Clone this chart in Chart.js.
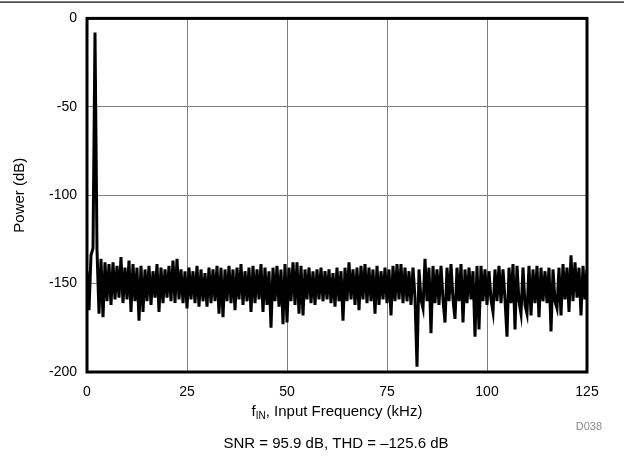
<!DOCTYPE html>
<html>
<head>
<meta charset="utf-8">
<script src="https://cdn.jsdelivr.net/npm/chart.js@4/dist/chart.umd.min.js"></script>
<style>
  html, body { margin: 0; padding: 0; background: #fff; }
  #wrap { width: 624px; height: 461px; position: relative; }
</style>
</head>
<body>
<div id="wrap"><canvas id="c" width="624" height="461"></canvas></div>
<script>
// ---- data (FFT, 0.5 kHz bins) ----
const binStepKHz = 0.5;
const powerDb = [
  -143,-165,-134,-130,-8,-131,-167,-136,-169,-138,
  -160,-139,-162,-138,-159,-140,-158,-135,-161,-141,
  -159,-137,-166,-139,-160,-141,-171,-140,-166,-142,
  -160,-140,-162,-143,-158,-139,-166,-141,-161,-142,
  -158,-140,-160,-137,-161,-136,-159,-142,-161,-143,
  -164,-141,-159,-143,-161,-140,-163,-142,-160,-144,
  -163,-141,-161,-142,-160,-140,-167,-141,-169,-142,
  -160,-140,-161,-142,-165,-141,-159,-139,-162,-143,
  -160,-141,-166,-140,-161,-142,-159,-139,-166,-141,
  -162,-143,-175,-141,-160,-140,-163,-142,-173,-139,
  -172,-141,-160,-138,-162,-138,-167,-140,-168,-142,
  -159,-141,-161,-143,-162,-142,-159,-141,-160,-143,
  -159,-142,-161,-144,-163,-141,-160,-143,-171,-141,
  -160,-138,-159,-142,-162,-141,-165,-140,-159,-139,
  -161,-141,-160,-142,-167,-140,-162,-143,-159,-141,
  -161,-142,-168,-140,-160,-139,-159,-139,-161,-141,
  -160,-143,-162,-141,-158,-197,-142,-159,-164,-136,
  -160,-141,-178,-140,-161,-142,-162,-140,-159,-172,
  -141,-160,-139,-159,-170,-141,-160,-139,-172,-142,
  -161,-141,-159,-143,-180,-140,-176,-140,-160,-142,
  -162,-143,-159,-166,-142,-160,-140,-161,-142,-159,
  -180,-141,-161,-139,-176,-140,-160,-167,-141,-162,
  -167,-140,-168,-142,-161,-140,-169,-141,-160,-143,
  -161,-141,-177,-142,-160,-164,-141,-168,-139,-159,
  -141,-166,-134,-160,-138,-158,-141,-168,-140,-159,
  -142
];
const xTickValues = [0, 25, 50, 75, 100, 125];
const yTickValues = [0, -50, -100, -150, -200];
const yAxisTitle = 'Power (dB)';
const xTitleMain = 'f';
const xTitleSub = 'IN';
const xTitleRest = ', Input Frequency (kHz)';
const footnote = 'SNR = 95.9 dB, THD = \u2013125.6 dB';
const figureId = 'D038';

const points = powerDb.map((v, i) => ({ x: i * binStepKHz, y: v }));

const FONT = '"Liberation Sans", Arial, sans-serif';

const decor = {
  id: 'decor',
  afterDraw(chart) {
    const ctx = chart.ctx;
    const a = chart.chartArea;
    ctx.save();
    // top rule
    ctx.fillStyle = '#000';
    ctx.fillRect(0, 1.5, 624, 1.2);
    // plot frame
    ctx.strokeStyle = '#000';
    ctx.lineWidth = 3;
    ctx.strokeRect(a.left, a.top, a.right - a.left, a.bottom - a.top);
    // x title with subscript
    const cx = (a.left + a.right) / 2;
    const y = 412;
    ctx.fillStyle = '#000';
    ctx.textBaseline = 'middle';
    ctx.font = '15px ' + FONT;
    const wMain = ctx.measureText(xTitleMain).width;
    const wRest = ctx.measureText(xTitleRest).width;
    ctx.font = '10px ' + FONT;
    const wSub = ctx.measureText(xTitleSub).width;
    let x0 = cx - (wMain + wSub + wRest) / 2;
    ctx.textAlign = 'left';
    ctx.font = '15px ' + FONT;
    ctx.fillText(xTitleMain, x0, y);
    ctx.font = '10px ' + FONT;
    ctx.fillText(xTitleSub, x0 + wMain, y + 4);
    ctx.font = '15px ' + FONT;
    ctx.fillText(xTitleRest, x0 + wMain + wSub, y);
    // figure id
    ctx.font = '11px ' + FONT;
    ctx.fillStyle = '#8a8a8a';
    ctx.textAlign = 'right';
    ctx.fillText(figureId, 602, 427);
    // footnote
    ctx.font = '15px ' + FONT;
    ctx.fillStyle = '#000';
    ctx.textAlign = 'center';
    ctx.fillText(footnote, 336, 444);
    ctx.restore();
  }
};

new Chart(document.getElementById('c'), {
  type: 'line',
  data: {
    datasets: [{
      data: points,
      borderColor: '#000',
      borderWidth: 3,
      pointRadius: 0,
      tension: 0,
      fill: false
    }]
  },
  options: {
    responsive: false,
    animation: false,
    devicePixelRatio: 1,
    layout: { padding: { top: 18, right: 37, left: 0, bottom: 0 } },
    plugins: { legend: { display: false }, tooltip: { enabled: false } },
    scales: {
      x: {
        type: 'linear',
        min: 0, max: 125,
        afterBuildTicks: s => { s.ticks = xTickValues.map(v => ({ value: v })); },
        afterFit: s => { s.height = 89; },
        grid: { color: '#808080', lineWidth: 1, drawTicks: false },
        border: { display: false },
        ticks: { color: '#000', font: { family: FONT, size: 14 }, padding: 12, maxRotation: 0 }
      },
      y: {
        min: -200, max: 0,
        afterBuildTicks: s => { s.ticks = yTickValues.map(v => ({ value: v })); },
        afterFit: s => { s.width = 87; },
        grid: { color: '#808080', lineWidth: 1, drawTicks: false },
        border: { display: false },
        ticks: { color: '#000', font: { family: FONT, size: 14 }, padding: 10 },
        title: { display: true, text: yAxisTitle, color: '#000', font: { family: FONT, size: 15 }, padding: { top: 11, bottom: 0 } }
      }
    }
  },
  plugins: [decor]
});
</script>
</body>
</html>
